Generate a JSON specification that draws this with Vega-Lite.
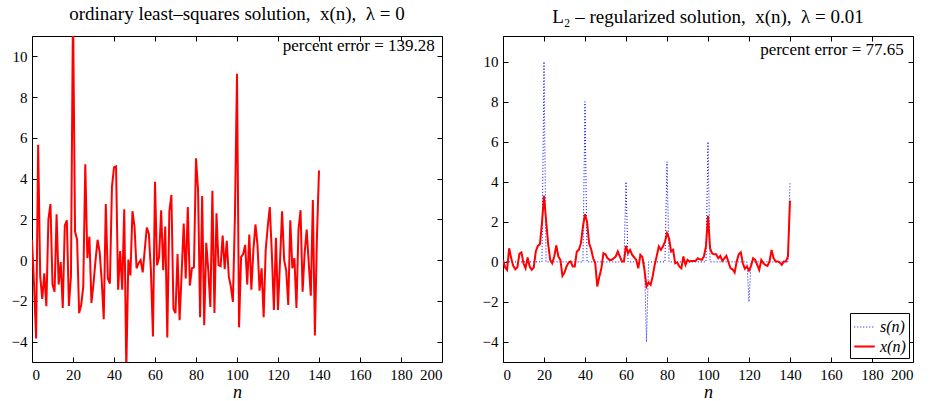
{
  "$schema": "https://vega.github.io/schema/vega-lite/v6.json",
  "background": "white",
  "padding": {"left": 10, "top": 4, "right": 5, "bottom": 2},
  "spacing": 38,
  "config": {
    "font": "Liberation Serif",
    "view": {"stroke": "black", "strokeWidth": 1},
    "axis": {
      "grid": false,
      "domain": false,
      "ticks": true,
      "tickColor": "black",
      "tickSize": -5,
      "labelFont": "Liberation Serif",
      "labelFontSize": 15,
      "labelColor": "black",
      "labelPadding": 10,
      "titleFont": "Liberation Serif",
      "titleFontSize": 18,
      "titleFontStyle": "italic",
      "titleFontWeight": "normal",
      "titleColor": "black",
      "titlePadding": 1
    },
    "title": {"font": "Liberation Serif", "fontSize": 19, "fontWeight": "normal", "color": "black"},
    "legend": {
      "orient": "bottom-right",
      "offset": 4,
      "strokeColor": "black",
      "fillColor": "white",
      "padding": 3,
      "labelFont": "Liberation Serif",
      "labelFontSize": 16,
      "labelFontStyle": "italic",
      "labelColor": "black",
      "rowPadding": 0
    }
  },
  "resolve": {"scale": {"color": "independent", "strokeDash": "independent", "strokeWidth": "independent"}},
  "hconcat": [
    {
      "width": 410,
      "height": 326,
      "title": {"text": "ordinary least\u2013squares solution,\u00a0 x(n),\u00a0 \u03bb = 0", "offset": 12},
      "layer": [
        {
          "data": {"values": [
            {"n": 0, "v": 1.0}, {"n": 1, "v": -1.2}, {"n": 2, "v": -3.85}, {"n": 3, "v": 5.66}, {"n": 4, "v": -0.8},
            {"n": 5, "v": -1.9}, {"n": 6, "v": -0.65}, {"n": 7, "v": -2.26}, {"n": 8, "v": 2.0}, {"n": 9, "v": 2.75},
            {"n": 10, "v": -1.2}, {"n": 11, "v": -1.55}, {"n": 12, "v": 2.25}, {"n": 13, "v": -1.2}, {"n": 14, "v": -0.1},
            {"n": 15, "v": -2.35}, {"n": 16, "v": 1.7}, {"n": 17, "v": 1.95}, {"n": 18, "v": -2.25}, {"n": 19, "v": -0.8},
            {"n": 20, "v": 12.5}, {"n": 21, "v": 1.4}, {"n": 22, "v": 1.0}, {"n": 23, "v": -2.6}, {"n": 24, "v": -2.2},
            {"n": 25, "v": -1.3}, {"n": 26, "v": 4.7}, {"n": 27, "v": 0.1}, {"n": 28, "v": 1.15}, {"n": 29, "v": -2.1},
            {"n": 30, "v": -1.15}, {"n": 31, "v": 0.0}, {"n": 32, "v": 1.0}, {"n": 33, "v": 0.4}, {"n": 34, "v": -1.0},
            {"n": 35, "v": -2.9}, {"n": 36, "v": 2.75}, {"n": 37, "v": -0.9}, {"n": 38, "v": -1.15}, {"n": 39, "v": 3.6},
            {"n": 40, "v": 4.55}, {"n": 41, "v": 4.6}, {"n": 42, "v": -1.45}, {"n": 43, "v": 0.45}, {"n": 44, "v": -1.45},
            {"n": 45, "v": 2.5}, {"n": 46, "v": -5.4}, {"n": 47, "v": 0.03}, {"n": 48, "v": -0.75}, {"n": 49, "v": 2.4},
            {"n": 50, "v": 1.65}, {"n": 51, "v": -0.4}, {"n": 52, "v": -0.15}, {"n": 53, "v": 0.0}, {"n": 54, "v": -0.6},
            {"n": 55, "v": 0.5}, {"n": 56, "v": 1.6}, {"n": 57, "v": 1.3}, {"n": 58, "v": -0.5}, {"n": 59, "v": -3.75},
            {"n": 60, "v": 3.85}, {"n": 61, "v": -0.25}, {"n": 62, "v": 0.15}, {"n": 63, "v": 2.45}, {"n": 64, "v": -0.5},
            {"n": 65, "v": 1.65}, {"n": 66, "v": -3.8}, {"n": 67, "v": 2.4}, {"n": 68, "v": 3.2}, {"n": 69, "v": -2.4},
            {"n": 70, "v": -2.6}, {"n": 71, "v": 0.3}, {"n": 72, "v": -2.95}, {"n": 73, "v": -0.65}, {"n": 74, "v": 1.8},
            {"n": 75, "v": -0.9}, {"n": 76, "v": 2.6}, {"n": 77, "v": -1.25}, {"n": 78, "v": -0.4}, {"n": 79, "v": -0.35},
            {"n": 80, "v": 5.0}, {"n": 81, "v": 3.45}, {"n": 82, "v": -2.8}, {"n": 83, "v": 3.15}, {"n": 84, "v": -3.2},
            {"n": 85, "v": 0.85}, {"n": 86, "v": -0.5}, {"n": 87, "v": -2.3}, {"n": 88, "v": 3.4}, {"n": 89, "v": -2.6},
            {"n": 90, "v": 2.3}, {"n": 91, "v": -0.25}, {"n": 92, "v": -0.3}, {"n": 93, "v": 1.2}, {"n": 94, "v": -0.45},
            {"n": 95, "v": 0.95}, {"n": 96, "v": -0.8}, {"n": 97, "v": -1.3}, {"n": 98, "v": -2.05}, {"n": 99, "v": 2.2},
            {"n": 100, "v": 9.15}, {"n": 101, "v": -3.3}, {"n": 102, "v": 0.15}, {"n": 103, "v": 0.3}, {"n": 104, "v": 0.75},
            {"n": 105, "v": -1.2}, {"n": 106, "v": 1.25}, {"n": 107, "v": -1.45}, {"n": 108, "v": 0.5}, {"n": 109, "v": 1.75},
            {"n": 110, "v": 0.75}, {"n": 111, "v": -1.5}, {"n": 112, "v": -0.4}, {"n": 113, "v": -2.8}, {"n": 114, "v": 0.5},
            {"n": 115, "v": 1.65}, {"n": 116, "v": 2.6}, {"n": 117, "v": 0.3}, {"n": 118, "v": -2.45}, {"n": 119, "v": 1.1},
            {"n": 120, "v": -2.45}, {"n": 121, "v": 0.0}, {"n": 122, "v": 2.4}, {"n": 123, "v": 0.0}, {"n": 124, "v": -0.5},
            {"n": 125, "v": -2.2}, {"n": 126, "v": 1.95}, {"n": 127, "v": -0.4}, {"n": 128, "v": 0.1}, {"n": 129, "v": -2.35},
            {"n": 130, "v": 1.5}, {"n": 131, "v": 2.45}, {"n": 132, "v": -1.55}, {"n": 133, "v": 0.35}, {"n": 134, "v": 1.5},
            {"n": 135, "v": -0.15}, {"n": 136, "v": -1.75}, {"n": 137, "v": 2.95}, {"n": 138, "v": -3.7}, {"n": 139, "v": 1.15},
            {"n": 140, "v": 4.4}
          ]},
          "mark": {"type": "line", "color": "#ff0000", "strokeWidth": 2, "clip": true},
          "encoding": {
            "x": {"field": "n", "type": "quantitative", "scale": {"domain": [0, 200], "nice": false},
                  "axis": {"title": "n", "values": [0, 20, 40, 60, 80, 100, 120, 140, 160, 180, 200]}},
            "y": {"field": "v", "type": "quantitative", "scale": {"domain": [-5, 11], "nice": false, "zero": false},
                  "axis": {"title": null, "values": [-4, -2, 0, 2, 4, 6, 8, 10]}}
          }
        },
        {
          "data": {"values": [{"n": 196.5, "v": 10.5, "label": "percent error = 139.28"}]},
          "mark": {"type": "text", "align": "right", "baseline": "middle", "fontSize": 17, "font": "Liberation Serif", "color": "black"},
          "encoding": {
            "x": {"field": "n", "type": "quantitative",
                  "axis": {"orient": "top", "labels": false, "title": null, "values": [0, 20, 40, 60, 80, 100, 120, 140, 160, 180, 200]}},
            "y": {"field": "v", "type": "quantitative",
                  "axis": {"orient": "right", "labels": false, "title": null, "values": [-4, -2, 0, 2, 4, 6, 8, 10]}},
            "text": {"field": "label"}
          }
        }
      ],
      "resolve": {"axis": {"x": "independent", "y": "independent"}}
    },
    {
      "width": 410,
      "height": 326,
      "title": {"text": "L\u2082 \u2013 regularized solution,\u00a0 x(n),\u00a0 \u03bb = 0.01", "offset": 9},
      "layer": [
        {
          "data": {"values": [
            {"n": 0, "s": 0, "x": 0.1}, {"n": 1, "s": 0, "x": -0.27}, {"n": 2, "s": 0, "x": -0.4}, {"n": 3, "s": 0, "x": 0.68},
            {"n": 4, "s": 0, "x": 0.18}, {"n": 5, "s": 0, "x": -0.2}, {"n": 6, "s": 0, "x": -0.37}, {"n": 7, "s": 0, "x": -0.27},
            {"n": 8, "s": 0, "x": 0.4}, {"n": 9, "s": 0, "x": 0.47}, {"n": 10, "s": 0, "x": -0.07}, {"n": 11, "s": 0, "x": -0.32},
            {"n": 12, "s": 0, "x": 0.22}, {"n": 13, "s": 0, "x": -0.23}, {"n": 14, "s": 0, "x": -0.4}, {"n": 15, "s": 0, "x": -0.28},
            {"n": 16, "s": 0, "x": 0.52}, {"n": 17, "s": 0, "x": 0.8}, {"n": 18, "s": 0, "x": 0.88}, {"n": 19, "s": 0, "x": 1.93},
            {"n": 20, "s": 10, "x": 3.3}, {"n": 21, "s": 0, "x": 2.1}, {"n": 22, "s": 0, "x": 0.93}, {"n": 23, "s": 0, "x": 0.1},
            {"n": 24, "s": 0, "x": -0.07}, {"n": 25, "s": 0, "x": 0.27}, {"n": 26, "s": 0, "x": 0.82}, {"n": 27, "s": 0, "x": 0.27},
            {"n": 28, "s": 0, "x": 0.1}, {"n": 29, "s": 0, "x": -0.7}, {"n": 30, "s": 0, "x": -0.53}, {"n": 31, "s": 0, "x": -0.23},
            {"n": 32, "s": 0, "x": -0.03}, {"n": 33, "s": 0, "x": 0.02}, {"n": 34, "s": 0, "x": -0.23}, {"n": 35, "s": 0, "x": -0.23},
            {"n": 36, "s": 0, "x": 0.52}, {"n": 37, "s": 0, "x": 0.6}, {"n": 38, "s": 0, "x": 0.93}, {"n": 39, "s": 0, "x": 1.76},
            {"n": 40, "s": 8, "x": 2.38}, {"n": 41, "s": 0, "x": 2.0}, {"n": 42, "s": 0, "x": 0.93}, {"n": 43, "s": 0, "x": 0.63},
            {"n": 44, "s": 0, "x": 0.18}, {"n": 45, "s": 0, "x": -0.07}, {"n": 46, "s": 0, "x": -1.23}, {"n": 47, "s": 0, "x": -0.73},
            {"n": 48, "s": 0, "x": -0.32}, {"n": 49, "s": 0, "x": 0.43}, {"n": 50, "s": 0, "x": 0.38}, {"n": 51, "s": 0, "x": 0.18},
            {"n": 52, "s": 0, "x": 0.1}, {"n": 53, "s": 0, "x": 0.1}, {"n": 54, "s": 0, "x": 0.18}, {"n": 55, "s": 0, "x": 0.27},
            {"n": 56, "s": 0, "x": 0.52}, {"n": 57, "s": 0, "x": 0.27}, {"n": 58, "s": 0, "x": 0.02}, {"n": 59, "s": 0, "x": 0.02},
            {"n": 60, "s": 4, "x": 0.8}, {"n": 61, "s": 0, "x": 0.43}, {"n": 62, "s": 0, "x": 0.6}, {"n": 63, "s": 0, "x": 0.35},
            {"n": 64, "s": 0, "x": 0.23}, {"n": 65, "s": 0, "x": 0.1}, {"n": 66, "s": 0, "x": -0.32}, {"n": 67, "s": 0, "x": 0.35},
            {"n": 68, "s": 0, "x": 0.23}, {"n": 69, "s": 0, "x": -0.4}, {"n": 70, "s": -4, "x": -1.23}, {"n": 71, "s": 0, "x": -1.03},
            {"n": 72, "s": 0, "x": -1.15}, {"n": 73, "s": 0, "x": -0.73}, {"n": 74, "s": 0, "x": -0.15}, {"n": 75, "s": 0, "x": 0.3},
            {"n": 76, "s": 0, "x": 0.77}, {"n": 77, "s": 0, "x": 0.6}, {"n": 78, "s": 0, "x": 0.77}, {"n": 79, "s": 0, "x": 1.0},
            {"n": 80, "s": 5, "x": 1.43}, {"n": 81, "s": 0, "x": 1.18}, {"n": 82, "s": 0, "x": 0.52}, {"n": 83, "s": 0, "x": 0.6},
            {"n": 84, "s": 0, "x": -0.07}, {"n": 85, "s": 0, "x": -0.03}, {"n": 86, "s": 0, "x": -0.23}, {"n": 87, "s": 0, "x": -0.32},
            {"n": 88, "s": 0, "x": 0.27}, {"n": 89, "s": 0, "x": -0.15}, {"n": 90, "s": 0, "x": 0.1}, {"n": 91, "s": 0, "x": 0.02},
            {"n": 92, "s": 0, "x": 0.05}, {"n": 93, "s": 0, "x": 0.05}, {"n": 94, "s": 0, "x": 0.05}, {"n": 95, "s": 0, "x": 0.18},
            {"n": 96, "s": 0, "x": 0.13}, {"n": 97, "s": 0, "x": 0.1}, {"n": 98, "s": 0, "x": 0.27}, {"n": 99, "s": 0, "x": 0.77},
            {"n": 100, "s": 6, "x": 2.3}, {"n": 101, "s": 0, "x": 0.68}, {"n": 102, "s": 0, "x": 0.43}, {"n": 103, "s": 0, "x": 0.38},
            {"n": 104, "s": 0, "x": 0.38}, {"n": 105, "s": 0, "x": 0.18}, {"n": 106, "s": 0, "x": 0.3}, {"n": 107, "s": 0, "x": 0.05},
            {"n": 108, "s": 0, "x": 0.18}, {"n": 109, "s": 0, "x": 0.3}, {"n": 110, "s": 0, "x": -0.02}, {"n": 111, "s": 0, "x": -0.32},
            {"n": 112, "s": 0, "x": -0.37}, {"n": 113, "s": 0, "x": -0.53}, {"n": 114, "s": 0, "x": 0.02}, {"n": 115, "s": 0, "x": 0.38},
            {"n": 116, "s": 0, "x": 0.48}, {"n": 117, "s": 0, "x": -0.07}, {"n": 118, "s": 0, "x": -0.35}, {"n": 119, "s": 0, "x": -0.23},
            {"n": 120, "s": -2, "x": -0.43}, {"n": 121, "s": 0, "x": -0.2}, {"n": 122, "s": 0, "x": 0.18}, {"n": 123, "s": 0, "x": 0.1},
            {"n": 124, "s": 0, "x": -0.15}, {"n": 125, "s": 0, "x": -0.4}, {"n": 126, "s": 0, "x": 0.1}, {"n": 127, "s": 0, "x": -0.07},
            {"n": 128, "s": 0, "x": -0.15}, {"n": 129, "s": 0, "x": -0.2}, {"n": 130, "s": 0, "x": 0.02}, {"n": 131, "s": 0, "x": 0.6},
            {"n": 132, "s": 0, "x": 0.18}, {"n": 133, "s": 0, "x": 0.02}, {"n": 134, "s": 0, "x": 0.02}, {"n": 135, "s": 0, "x": -0.03},
            {"n": 136, "s": 0, "x": -0.15}, {"n": 137, "s": 0, "x": 0.02}, {"n": 138, "s": 0, "x": 0.02}, {"n": 139, "s": 0, "x": 0.27},
            {"n": 140, "s": 4, "x": 3.06}
          ]},
          "transform": [{"fold": ["s", "x"], "as": ["series", "v"]}],
          "mark": {"type": "line", "clip": true},
          "encoding": {
            "x": {"field": "n", "type": "quantitative", "scale": {"domain": [0, 200], "nice": false},
                  "axis": {"title": "n", "values": [0, 20, 40, 60, 80, 100, 120, 140, 160, 180, 200]}},
            "y": {"field": "v", "type": "quantitative", "scale": {"domain": [-5, 11.28], "nice": false, "zero": false},
                  "axis": {"title": null, "values": [-4, -2, 0, 2, 4, 6, 8, 10]}},
            "color": {"field": "series", "type": "nominal",
                      "scale": {"domain": ["s", "x"], "range": ["#0000ff", "#ff0000"]},
                      "legend": {"title": null, "symbolType": "stroke", "symbolSize": 420, "labelExpr": "datum.label + '(n)'"}},
            "strokeDash": {"field": "series", "type": "nominal",
                           "scale": {"domain": ["s", "x"], "range": [[1, 2], [1, 0]]},
                           "legend": {"title": null, "symbolType": "stroke", "symbolSize": 420, "labelExpr": "datum.label + '(n)'"}},
            "strokeWidth": {"field": "series", "type": "nominal",
                            "scale": {"domain": ["s", "x"], "range": [1, 2]},
                            "legend": {"title": null, "symbolType": "stroke", "symbolSize": 420, "labelExpr": "datum.label + '(n)'"}}
          }
        },
        {
          "data": {"values": [{"n": 195.5, "v": 10.6, "label": "percent error = 77.65"}]},
          "mark": {"type": "text", "align": "right", "baseline": "middle", "fontSize": 17, "font": "Liberation Serif", "color": "black"},
          "encoding": {
            "x": {"field": "n", "type": "quantitative",
                  "axis": {"orient": "top", "labels": false, "title": null, "values": [0, 20, 40, 60, 80, 100, 120, 140, 160, 180, 200]}},
            "y": {"field": "v", "type": "quantitative",
                  "axis": {"orient": "right", "labels": false, "title": null, "values": [-4, -2, 0, 2, 4, 6, 8, 10]}},
            "text": {"field": "label"}
          }
        }
      ],
      "resolve": {"axis": {"x": "independent", "y": "independent"}}
    }
  ]
}
